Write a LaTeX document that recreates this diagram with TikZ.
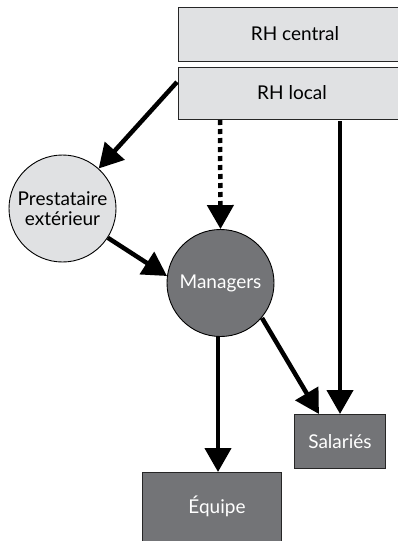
\documentclass[tikz,border=0pt]{standalone}
\usepackage{fontspec}
\setmainfont{Lato}
\usetikzlibrary{arrows.meta}
\definecolor{lightg}{HTML}{E0E1E3}
\definecolor{darkg}{HTML}{737477}
\tikzset{
  lbox/.style={draw=black!85, line width=0.9pt, fill=lightg, inner sep=0pt},
  dbox/.style={draw=black!85, line width=0.9pt, fill=darkg, text=white, inner sep=0pt},
  lcirc/.style={circle, draw=black, line width=0.9pt, fill=lightg, minimum size=107pt, inner sep=0pt, align=center},
  dcirc/.style={circle, draw=black, line width=0.9pt, fill=darkg, text=white, minimum size=107pt, inner sep=0pt},
  arr/.style={line width=4.5pt, -{Triangle[length=24pt,width=26pt]}},
  txt/.style={font=\fontsize{19}{23}\selectfont}
}
\begin{document}
\begin{tikzpicture}[x=1pt,y=-1pt]
\useasboundingbox (0,0) rectangle (397,541);
\node[lbox, minimum width=230pt, minimum height=54pt, anchor=north west, txt] (central) at (178,7) {};
\node[txt] at (295,34) {RH central};
\node[lbox, minimum width=230pt, minimum height=52pt, anchor=north west] (local) at (178,67) {};
\node[txt] at (292,93) {RH local};
\node[lcirc, txt] (prest) at (62.5,208.5) {Prestataire\\[-3pt]extérieur};
\node[dcirc, txt] (man) at (220.5,283) {Managers};
\node[dbox, minimum width=91pt, minimum height=54pt, anchor=north west, txt] (sal) at (294,414) {Salariés};
\node[dbox, minimum width=139pt, minimum height=80pt, anchor=north west] (eq) at (142,472) {};
\node[txt, text=white] at (217,506) {Équipe};
\coordinate (l1) at (177,82);
\coordinate (l2) at (220,120);
\coordinate (l3) at (340,121);
\coordinate (m1) at (262,318);
\coordinate (m2) at (218,336);
\coordinate (p2) at (167,276);
\draw[arr] (l1) -- (prest);
\draw[arr, dash pattern=on 5pt off 4pt] (l2) -- (man.north);
\draw[arr] (prest) -- (p2);
\draw[arr] (l3) -- (l3 |- sal.north);
\draw[arr] (m1) -- ([xshift=-21pt]sal.north);
\draw[arr] (m2) -- (m2 |- eq.north);
\end{tikzpicture}
\end{document}
